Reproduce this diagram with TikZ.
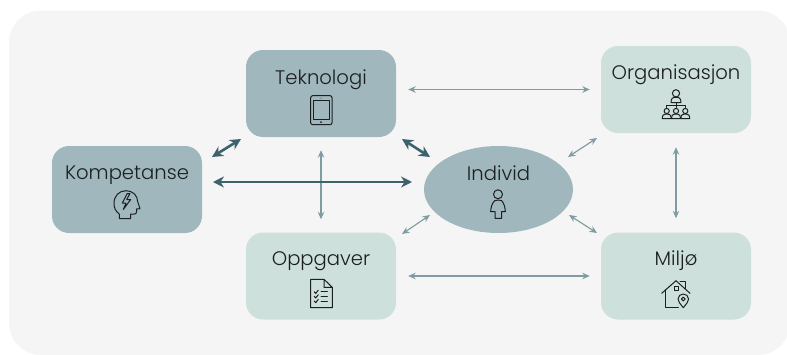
\documentclass[tikz,border=0pt]{standalone}
\usepackage{fontspec}
\setmainfont{Poppins}[UprightFont=* Light]
\usetikzlibrary{arrows.meta,shapes.geometric}
\definecolor{bgc}{HTML}{F5F5F5}
\definecolor{darkbox}{HTML}{A0B8BD}
\definecolor{lightbox}{HTML}{CDE0DB}
\definecolor{darkarrow}{HTML}{3D626D}
\definecolor{thinarrow}{HTML}{7F9CA2}
\definecolor{ink}{HTML}{1C1F20}
\tikzset{
  boxbase/.style={rectangle,rounded corners=17pt,minimum width=150pt,minimum height=87pt,inner sep=0pt},
  darkb/.style={boxbase,fill=darkbox},
  lightb/.style={boxbase,fill=lightbox},
  ellb/.style={ellipse,fill=darkbox,minimum width=149pt,minimum height=87pt,inner sep=0pt},
  lab/.style={font=\fontsize{19.6}{22}\selectfont,text=ink,inner sep=0pt,anchor=base},
  thin conn/.style={draw=thinarrow,line width=1.15pt,{Stealth[length=7.5pt,width=6.5pt]}-{Stealth[length=7.5pt,width=6.5pt]}},
  thick conn/.style={draw=darkarrow,line width=2.6pt,{Stealth[length=11pt,width=11pt]}-{Stealth[length=11pt,width=11pt]}},
  icon/.style={draw=ink,line width=1pt,line join=round,line cap=round}
}
\begin{document}
\begin{tikzpicture}[x=1pt,y=-1pt]
\useasboundingbox (0,0) rectangle (787,354);
\clip (0,0) rectangle (787,354);
\fill[bgc,rounded corners=32pt] (9,10.5) rectangle (790,355);
% boxes
\node[darkb] (komp) at (127,189.5) {};
\node[darkb] (tek) at (321,93.5) {};
\node[lightb] (org) at (676,89.5) {};
\node[lightb] (opp) at (321,276) {};
\node[lightb] (mil) at (676,276) {};
\node[ellb] (ind) at (498.5,189.5) {};
% labels
\node[lab] (lkomp) at (127,179.5) {Kompetanse};
\node[lab] (ltek) at (321,84) {Teknologi};
\node[lab] (lorg) at (676,79.5) {Organisasjon};
\node[lab] (lopp) at (321,265.5) {Oppgaver};
\node[lab] (lmil) at (676,265.5) {Miljø};
\node[lab] (lind) at (498.5,180) {Individ};
% connectors
\draw[thin conn,shorten <=12pt,shorten >=11pt] (tek.east |- org.west) -- (org.west);
\draw[thin conn,shorten <=13pt,shorten >=13pt] (tek.south) -- (opp.north);
\draw[thin conn,shorten <=14pt,shorten >=14pt] (org.south) -- (mil.north);
\draw[thin conn,shorten <=12pt,shorten >=11pt] (opp.east) -- (mil.west);
\coordinate (a1) at (402,139); \coordinate (a2) at (430,157);
\coordinate (b1) at (212,157); \coordinate (b2) at (241,139);
\coordinate (c1) at (213,182); \coordinate (c2) at (412,182);
\coordinate (d1) at (568,157); \coordinate (d2) at (597,138);
\coordinate (e1) at (569,215); \coordinate (e2) at (597,233);
\coordinate (f1) at (402,234); \coordinate (f2) at (430,215);
\draw[thick conn] (a1) -- (a2);
\draw[thick conn] (b1) -- (b2);
\draw[thick conn] (c1) -- (c2);
\draw[thin conn] (d1) -- (d2);
\draw[thin conn] (e1) -- (e2);
\draw[thin conn] (f1) -- (f2);
% tablet
\draw[icon,rounded corners=2pt] (310.7,95.7) rectangle (332,124.7);
\draw[icon] (313,100) rectangle (329.3,119.3);
\fill[ink] (321,122) circle (1pt);
\fill[ink] (321,98) circle (.5pt);
% organisation
\draw[icon] (676,93.3) circle (3.6);
\draw[icon] (671,102.5) .. controls (671,98.5) and (673,97.3) .. (674,97.3) -- (678,97.3) .. controls (679,97.3) and (681,98.5) .. (681,102.5) -- cycle;
\draw[icon] (676,102.5) -- (676,107.5) (666.7,107.5) -- (666.7,105) -- (685.3,105) -- (685.3,107.5);
\foreach \cx in {666.7,676,685.3}{
  \draw[icon] (\cx,111) circle (2.6);
  \draw[icon] (\cx-4.4,118.6) .. controls (\cx-4.4,115) and (\cx-3,114.2) .. (\cx-1.5,114.2) -- (\cx+1.5,114.2) .. controls (\cx+3,114.2) and (\cx+4.4,115) .. (\cx+4.4,118.6) -- cycle;
}
% head with bolt
\draw[icon] (119.3,218.5) -- (119.3,214) .. controls (115,211) and (114,207) .. (114,203.3)
  .. controls (114,196) and (119,190.7) .. (126,190.7)
  .. controls (133,190.7) and (137.5,195.5) .. (137.7,201.7)
  -- (140,208.7) -- (136.5,209) -- (136.5,212) .. controls (136.5,213.5) and (135.5,214) .. (134.5,214)
  -- (130.7,214) -- (130.7,218.5) -- cycle;
\draw[icon] (127.3,193.5) -- (122.3,203) -- (126,203) -- (123.3,209.5) -- (130.7,199.5) -- (126.7,199.5) -- (130,193.5) -- cycle;
% person
\draw[icon] (498,194.3) circle (4.5);
\draw[icon] (494.7,200.7) .. controls (492,203) and (490.7,208) .. (490.7,211.7) -- (495,211.7) -- (495,218.3) -- (501.5,218.3) -- (501.5,211.7) -- (505.3,211.7) .. controls (505.3,208) and (504,203) .. (501.7,200.7) .. controls (499.5,199.8) and (497,199.8) .. (494.7,200.7) -- cycle;
% document
\draw[icon] (324,279.3) -- (310.7,279.3) -- (310.7,307.7) -- (332.3,307.7) -- (332.3,287.3) -- (324,279.3) -- (324,287.3) -- (332.3,287.3);
\foreach \ry in {291.7,296.3,301}{
  \draw[icon] (314.2,\ry) -- (315.7,\ry+1.7) -- (318.2,\ry-1.5);
  \draw[icon] (321,\ry) -- (327.3,\ry);
}
% house
\draw[icon] (661.7,293.3) -- (676,280.7) -- (690,293.3);
\draw[icon] (680,281.7) -- (685.7,281.7) -- (685.7,288.5);
\draw[icon] (665.3,290.2) -- (665.3,307.7) -- (678.3,307.7);
\draw[icon] (674,286.7) rectangle (678,290.7);
\draw[icon] (683.3,307.7) .. controls (680,303.5) and (678,301.5) .. (678,299) .. controls (678,296) and (680.5,294) .. (683.3,294) .. controls (686,294) and (688.6,296) .. (688.6,299) .. controls (688.6,301.5) and (686.6,303.5) .. (683.3,307.7) -- cycle;
\draw[icon] (683.3,299) circle (1.9);
\end{tikzpicture}
\end{document}
